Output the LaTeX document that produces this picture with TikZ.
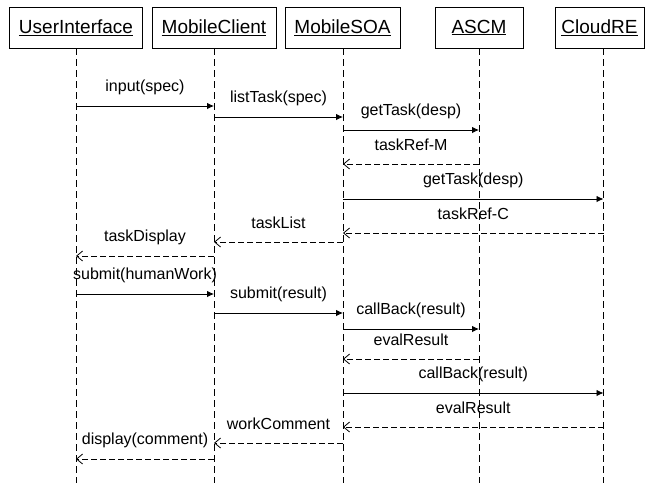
\documentclass[tikz,border=0pt]{standalone}
\usepackage{fontspec}
\setmainfont{Liberation Sans}
\usetikzlibrary{arrows.meta}
\begin{document}
\begin{tikzpicture}[x=1pt,y=-1pt,
  head/.style={draw, line width=0.8pt, minimum height=41pt, inner sep=0pt,
               font=\fontsize{19}{22}\selectfont},
  life/.style={line width=0.7pt, dash pattern=on 7pt off 4pt},
  call/.style={line width=0.8pt, -{Latex[length=7pt,width=6.5pt]}},
  reply/.style={line width=0.8pt, dash pattern=on 6pt off 3pt,
                -{Straight Barb[length=6pt,width=10pt,line width=0.8pt]}},
  lbl/.style={midway, yshift=19pt, inner sep=0pt, font=\fontsize{16}{19}\selectfont}
]
\useasboundingbox (0,0) rectangle (646,483);

% participants
\node[head, minimum width=133pt] (ui)    at (76,27.5)    {\underline{UserInterface}};
\node[head, minimum width=124pt] (mc)    at (214,27.5)   {\underline{MobileClient}};
\node[head, minimum width=115pt] (soa)   at (342.5,27.5) {\underline{MobileSOA}};
\node[head, minimum width=88pt]  (ascm)  at (479,27.5)   {\underline{ASCM}};
\node[head, minimum width=89pt]  (cloud) at (599.5,27.5) {\underline{CloudRE}};

% lifeline tops and ends
\coordinate (uiL)    at (76,48);
\coordinate (mcL)    at (214,48);
\coordinate (soaL)   at (343,48);
\coordinate (ascmL)  at (479,48);
\coordinate (cloudL) at (603.5,48);
\coordinate (uiE)    at (76,483);
\coordinate (mcE)    at (214,483);
\coordinate (soaE)   at (343,483);
\coordinate (ascmE)  at (479,483);
\coordinate (cloudE) at (603.5,483);

\draw[life] (uiL) -- (uiE);
\draw[life] (mcL) -- (mcE);
\draw[life] (soaL) -- (soaE);
\draw[life] (ascmL) -- (ascmE);
\draw[life] (cloudL) -- (cloudE);

% task retrieval
\draw[call]  (uiL |- 0,106)    -- node[lbl]{input(spec)}     (mcL |- 0,106);
\draw[call]  (mcL |- 0,117)    -- node[lbl]{listTask(spec)}  (soaL |- 0,117);
\draw[call]  (soaL |- 0,130)   -- node[lbl]{getTask(desp)}   (ascmL |- 0,130);
\draw[reply] (ascmL |- 0,164)  -- node[lbl]{taskRef-M}       (soaL |- 0,164);
\draw[call]  (soaL |- 0,199)   -- node[lbl]{getTask(desp)}   (cloudL |- 0,199);
\draw[reply] (cloudL |- 0,233) -- node[lbl]{taskRef-C}       (soaL |- 0,233);
\draw[reply] (soaL |- 0,242)   -- node[lbl]{taskList}        (mcL |- 0,242);
\draw[reply] (mcL |- 0,256)    -- node[lbl]{taskDisplay}     (uiL |- 0,256);

% work submission
\draw[call]  (uiL |- 0,294)    -- node[lbl]{submit(humanWork)} (mcL |- 0,294);
\draw[call]  (mcL |- 0,313)    -- node[lbl]{submit(result)}    (soaL |- 0,313);
\draw[call]  (soaL |- 0,329)   -- node[lbl]{callBack(result)}  (ascmL |- 0,329);
\draw[reply] (ascmL |- 0,359)  -- node[lbl]{evalResult}        (soaL |- 0,359);
\draw[call]  (soaL |- 0,393)   -- node[lbl]{callBack(result)}  (cloudL |- 0,393);
\draw[reply] (cloudL |- 0,427) -- node[lbl]{evalResult}        (soaL |- 0,427);
\draw[reply] (soaL |- 0,443)   -- node[lbl]{workComment}       (mcL |- 0,443);
\draw[reply] (mcL |- 0,459)    -- node[lbl]{display(comment)}  (uiL |- 0,459);
\end{tikzpicture}
\end{document}
